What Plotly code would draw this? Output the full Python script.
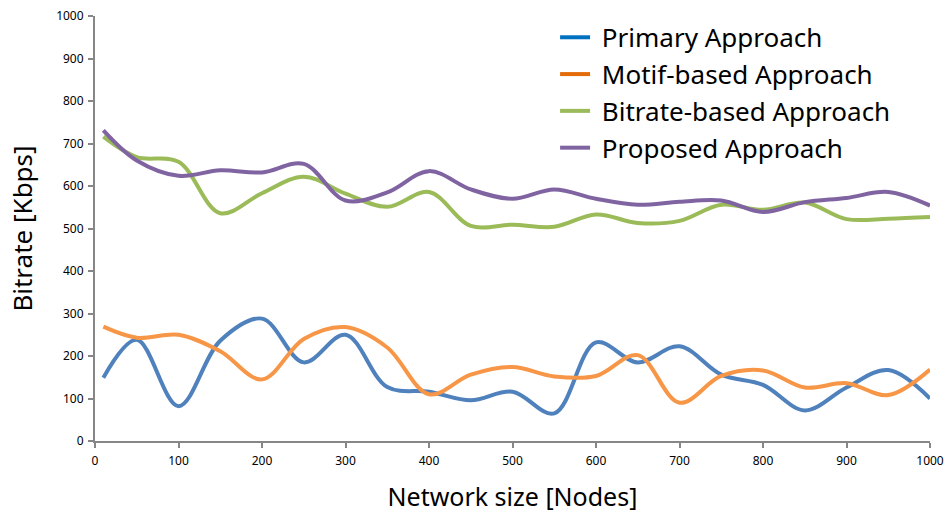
import plotly.graph_objects as go

# Network sizes (nodes) at which bitrate was measured
nodes = [10, 50, 100, 150, 200, 250, 300, 350, 400, 450, 500,
         550, 600, 650, 700, 750, 800, 850, 900, 950, 1000]

# Bitrate in Kbps for each approach
primary = [149, 238, 82, 236, 288, 185, 250, 127, 116, 96, 116,
           65, 232, 185, 223, 156, 132, 72, 126, 167, 100]
motif = [269, 243, 250, 211, 145, 240, 268, 220, 110, 156, 174,
         152, 153, 202, 90, 153, 166, 126, 136, 108, 168]
bitrate = [716, 668, 657, 536, 583, 622, 582, 551, 586, 506, 509,
           504, 533, 513, 518, 556, 544, 561, 522, 523, 527]
proposed = [731, 660, 624, 637, 632, 652, 566, 585, 635, 592, 570,
            592, 570, 556, 563, 566, 539, 562, 572, 586, 554]

series_names = ["Primary Approach", "Motif-based Approach",
                "Bitrate-based Approach", "Proposed Approach"]
line_colors = ["#4F81BD", "#F79646", "#9BBB59", "#8064A2"]
key_colors = ["#0070C0", "#E36C09", "#9BBB59", "#8064A2"]

fig = go.Figure()

for name, values, color in zip(series_names, [primary, motif, bitrate, proposed], line_colors):
    fig.add_trace(go.Scatter(
        x=nodes, y=values, mode="lines", name=name, showlegend=False,
        line=dict(color=color, width=4, shape="spline", smoothing=1.0),
        hoverinfo="x+y+name",
    ))

# Legend keys (a non-breaking space widens the gap between key and label)
for name, color in zip(series_names, key_colors):
    fig.add_trace(go.Scatter(
        x=[None], y=[None], mode="lines", name="\u00a0" + name,
        line=dict(color=color, width=4),
    ))

axis_common = dict(
    showgrid=False, zeroline=False, showline=True,
    linecolor="#868686", linewidth=2,
    ticks="outside", ticklen=5, tickwidth=2, tickcolor="#868686",
    tickfont=dict(family="Noto Sans", size=12, color="#000000"),
)

fig.update_layout(
    width=946, height=513,
    margin=dict(l=95, r=16, t=16, b=72, autoexpand=False),
    paper_bgcolor="white", plot_bgcolor="white",
    font=dict(family="Noto Sans", color="#000000"),
    xaxis=dict(range=[0, 1000], tickvals=list(range(0, 1001, 100)),
               title=dict(text="Network size [Nodes]", font=dict(size=25), standoff=24),
               automargin=False, ticklabelstandoff=3, **axis_common),
    yaxis=dict(range=[0, 1000], tickvals=list(range(0, 1001, 100)),
               title=dict(text="Bitrate [Kbps]", font=dict(size=26), standoff=16),
               automargin=False, ticklabelstandoff=2, **axis_common),
    legend=dict(x=0.551, y=1.005, xanchor="left", yanchor="top",
                font=dict(family="Noto Sans", size=26, color="#000000"),
                bgcolor="rgba(0,0,0,0)", tracegroupgap=0, itemwidth=30),
)

fig.write_html("out.html")
